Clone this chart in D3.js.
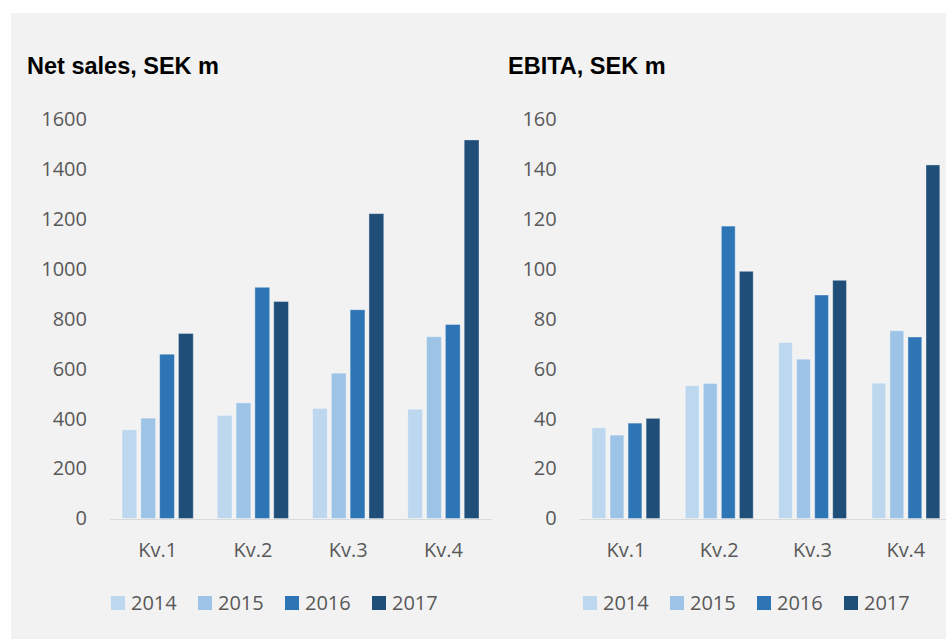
<!DOCTYPE html>
<html>
<head>
<meta charset="utf-8">
<script src="https://cdnjs.cloudflare.com/ajax/libs/d3/7.8.5/d3.min.js"></script>
<style>
  html, body { margin: 0; padding: 0; background: #ffffff; }
  svg { display: block; }
</style>
</head>
<body>
<svg id="chart" width="946" height="639"></svg>
<script>
// ---- data ----
const categories = ["Kv.1", "Kv.2", "Kv.3", "Kv.4"];
const years = ["2014", "2015", "2016", "2017"];
const colors = ["#BDD7EE", "#9DC3E6", "#2E75B6", "#1F4E79"];

const salesTitle = "Net sales, SEK m";
const sales2014 = [355, 413, 441, 438];
const sales2015 = [402, 463, 582, 728];
const sales2016 = [658, 926, 836, 777];
const sales2017 = [741, 869, 1221, 1516];
const salesTicks = [0, 200, 400, 600, 800, 1000, 1200, 1400, 1600];

const ebitaTitle = "EBITA, SEK m";
const ebita2014 = [36.3, 53.2, 70.5, 54.2];
const ebita2015 = [33.4, 54.1, 63.8, 75.2];
const ebita2016 = [38.2, 117.1, 89.5, 72.7];
const ebita2017 = [40.1, 99.0, 95.4, 141.6];
const ebitaTicks = [0, 20, 40, 60, 80, 100, 120, 140, 160];

// ---- drawing ----
const svg = d3.select("#chart");
svg.append("rect").attr("x", 11).attr("y", 13).attr("width", 946 - 11).attr("height", 639 - 13).attr("fill", "#F2F2F2");

const FONT = "'Open Sans', 'Noto Sans', sans-serif";
const TEXT = "#595959";

function drawChart(cfg) {
  const g = svg.append("g");
  const series = cfg.series;
  const y = d3.scaleLinear().domain([0, cfg.ticks[cfg.ticks.length - 1]]).range([518.5, 119]);
  const x0 = d3.scaleBand().domain(categories).range([cfg.x0, cfg.x1]).padding(0);
  const x1 = d3.scaleBand().domain(years)
    .range([cfg.pad, x0.bandwidth() - cfg.pad]).paddingInner(cfg.inner).paddingOuter(0);

  // title
  g.append("text").attr("x", cfg.titleX).attr("y", 74)
    .attr("font-family", "'Liberation Sans', Arial, sans-serif")
    .attr("font-weight", "bold").attr("font-size", 23.5).attr("fill", "#000")
    .text(cfg.title);

  // y axis labels
  const ya = g.append("g").attr("transform", `translate(${cfg.labelX},0)`)
    .call(d3.axisLeft(y).tickValues(cfg.ticks).tickSize(0).tickPadding(0).tickFormat(d3.format("d")));
  ya.select(".domain").remove();
  ya.selectAll("text").attr("font-family", FONT).attr("font-size", 20).attr("fill", TEXT);

  // bars
  const groups = g.append("g").selectAll("g").data(categories).join("g")
    .attr("transform", d => `translate(${x0(d)},0)`);
  groups.selectAll("rect")
    .data((c, ci) => years.map((yr, si) => ({ yr, si, v: series[si][ci] })))
    .join("rect")
    .attr("x", d => x1(d.yr))
    .attr("width", x1.bandwidth())
    .attr("y", d => y(d.v))
    .attr("height", d => y(0) - y(d.v))
    .attr("fill", d => colors[d.si])
    .attr("stroke", "rgba(255,255,255,0.35)")
    .attr("stroke-width", 1);

  // x axis
  const xa = g.append("g").attr("transform", "translate(0,519)")
    .call(d3.axisBottom(x0).tickSize(0).tickSizeOuter(0).tickPadding(24));
  xa.select(".domain").attr("stroke", "#D9D9D9").attr("stroke-width", 1.2);
  xa.selectAll("text").attr("font-family", FONT).attr("font-size", 20).attr("fill", TEXT);

  // legend
  const leg = g.append("g").selectAll("g").data(years).join("g")
    .attr("transform", (d, i) => `translate(${cfg.legendX + i * 87},596)`);
  leg.append("rect").attr("width", 14).attr("height", 14).attr("fill", (d, i) => colors[i]);
  leg.append("text").attr("x", 20).attr("y", 14)
    .attr("font-family", FONT).attr("font-size", 20).attr("fill", TEXT).text(d => d);
}

drawChart({
  title: salesTitle, titleX: 27,
  series: [sales2014, sales2015, sales2016, sales2017],
  ticks: salesTicks, labelX: 87,
  x0: 110, x1: 491, pad: 12, inner: 0.214,
  legendX: 111
});
drawChart({
  title: ebitaTitle, titleX: 508,
  series: [ebita2014, ebita2015, ebita2016, ebita2017],
  ticks: ebitaTicks, labelX: 556.7,
  x0: 579.3, x1: 952.5, pad: 12.7, inner: 0.235,
  legendX: 583
});
</script>
</body>
</html>
